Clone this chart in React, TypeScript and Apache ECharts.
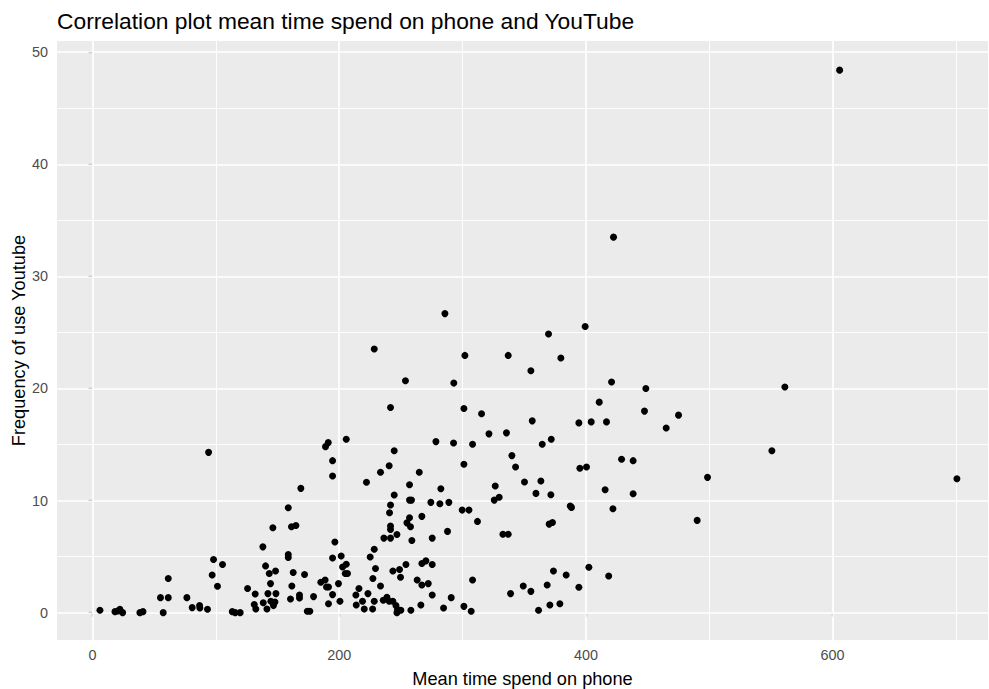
import React, { useEffect, useRef } from "react";
import * as echarts from "echarts";

// Mean minutes per day on the phone for each participant
const meanPhoneTime = [
  94.1, 98.1, 105.4, 97.0, 61.4, 101.3, 55.1, 61.4, 76.5, 80.8,
  86.8, 87.0, 93.2, 6.0, 18.2, 22.2, 24.4, 20.5, 38.4, 40.9,
  57.3, 113.3, 115.7, 119.7, 125.7, 131.9, 131.1, 132.4, 138.1, 140.3,
  143.3, 144.3, 148.4, 146.2, 142.2, 138.4, 141.4, 144.6, 147.9, 148.7,
  146.7, 158.7, 161.3, 164.9, 158.7, 158.7, 162.7, 161.6, 160.5, 167.8,
  167.8, 168.9, 171.9, 174.1, 176.2, 179.2, 185.1, 188.6, 189.7, 191.3,
  194.6, 191.3, 188.9, 191.1, 194.6, 194.6, 205.7, 196.5, 194.6, 201.6,
  202.7, 205.7, 204.9, 206.7, 199.4, 200.6, 213.5, 216.0, 213.8, 218.9,
  220.3, 223.3, 227.1, 228.4, 227.3, 229.4, 225.1, 228.4, 233.5, 222.1,
  233.5, 240.5, 244.6, 264.9, 257.0, 244.6, 257.0, 258.6, 274.3, 278.4,
  241.6, 240.8, 267.0, 241.6, 241.6, 254.9, 257.0, 257.8, 246.8, 236.2,
  241.6, 258.9, 275.4, 267.0, 270.3, 275.4, 254.1, 248.9, 243.5, 249.7,
  263.2, 267.0, 272.2, 275.4, 235.7, 238.7, 240.5, 243.5, 246.0, 247.3,
  250.0, 246.8, 258.1, 266.2, 356.5, 394.3, 404.3, 416.7, 292.7, 308.1,
  321.4, 335.6, 364.6, 371.9, 340.0, 343.0, 301.1, 395.1, 400.5, 350.2,
  363.5, 326.5, 282.4, 359.5, 371.6, 415.6, 325.7, 329.7, 281.6, 288.9,
  299.7, 305.2, 312.1, 387.3, 388.3, 421.9, 370.2, 372.9, 287.8, 332.7,
  337.0, 402.4, 418.5, 373.7, 384.0, 308.1, 290.8, 284.6, 301.1, 307.0,
  338.9, 349.2, 355.4, 368.6, 361.6, 370.8, 378.9, 394.3, 420.8, 448.6,
  561.3, 410.8, 447.5, 475.1, 465.1, 428.9, 438.3, 550.8, 498.6, 438.3,
  490.2, 228.4, 241.6, 285.7, 369.7, 399.4, 301.9, 337.0, 379.7, 355.4,
  253.7, 292.9, 301.1, 315.4, 605.7, 422.4, 700.8,
];

// YouTube use frequency, same order as meanPhoneTime
const youtubeFrequency = [
  14.3, 4.74, 4.29, 3.36, 3.04, 2.35, 1.34, 1.34, 1.34, 0.45,
  0.63, 0.41, 0.30, 0.21, 0.09, 0.30, 0, 0.15, 0, 0.09,
  0, 0.09, 0, 0, 2.15, 1.66, 0.72, 0.32, 5.87, 4.17,
  3.49, 2.59, 3.72, 7.57, 1.70, 0.89, 0.32, 1.01, 0.95, 1.70,
  0.63, 9.36, 7.66, 7.78, 5.19, 4.92, 3.58, 2.38, 1.22, 1.57,
  1.31, 11.09, 3.40, 0.12, 0.12, 1.43, 2.71, 2.92, 2.29, 2.29,
  1.61, 0.80, 14.81, 15.17, 13.56, 12.19, 15.47, 6.31, 4.88, 5.06,
  4.08, 4.32, 3.49, 3.49, 2.59, 1.01, 1.57, 2.15, 0.68, 1.01,
  0.32, 1.70, 0.32, 1.01, 3.04, 3.94, 4.97, 5.66, 2.38, 11.63,
  12.52, 13.11, 14.45, 12.52, 11.41, 10.49, 10.04, 10.04, 9.84, 15.26,
  9.60, 8.91, 8.59, 7.72, 7.42, 8.01, 8.46, 7.66, 6.98, 6.65,
  6.65, 6.44, 6.65, 4.38, 4.62, 4.29, 4.29, 3.85, 3.72, 3.16,
  2.92, 2.47, 2.59, 1.57, 1.10, 1.37, 1.01, 1.01, 0.63, 0.27,
  0.21, 0, 0.21, 0.68, 17.11, 16.93, 17.02, 17.02, 15.14, 15.03,
  15.95, 16.04, 15.03, 15.47, 14.01, 13.0, 13.24, 12.88, 13.0, 11.65,
  11.74, 11.3, 11.06, 10.64, 10.52, 10.97, 10.04, 10.29, 9.71, 9.84,
  9.15, 9.15, 8.14, 9.51, 9.39, 9.27, 7.90, 8.05, 7.25, 7.0,
  7.0, 4.05, 3.27, 3.72, 3.36, 2.92, 1.34, 0.41, 0.56, 0.12,
  1.70, 2.38, 1.90, 2.47, 0.21, 0.68, 0.80, 2.26, 20.57, 20.0,
  20.13, 18.78, 17.98, 17.62, 16.48, 13.68, 13.56, 14.45, 12.07, 10.61,
  8.23, 23.52, 18.3, 26.68, 24.86, 25.53, 22.95, 22.95, 22.72, 21.58,
  20.69, 20.48, 18.21, 17.74, 48.4, 33.5, 11.94,
];

// Axis breaks
const xMajorBreaks = [0, 200, 400, 600];
const xMinorBreaks = [100, 300, 500, 700];
const yMajorBreaks = [0, 10, 20, 30, 40, 50];
const yMinorBreaks = [5, 15, 25, 35, 45];

const FONT = "'Liberation Sans', Arial, sans-serif";

export default function App() {
  const ref = useRef<HTMLDivElement>(null);

  useEffect(() => {
    if (!ref.current) return;
    const chart = echarts.init(ref.current, undefined, { renderer: "svg" });

    const points = meanPhoneTime.map((x, i) => [x, youtubeFrequency[i]]);

    const gridLine = (key: "xAxis" | "yAxis", value: number, width: number) => ({
      [key]: value,
      lineStyle: { color: "#FFFFFF", width, type: "solid", opacity: 1 },
    });

    const gridLines = [
      ...xMinorBreaks.map((v) => gridLine("xAxis", v, 0.9)),
      ...yMinorBreaks.map((v) => gridLine("yAxis", v, 0.9)),
      ...xMajorBreaks.map((v) => gridLine("xAxis", v, 1.7)),
      ...yMajorBreaks.map((v) => gridLine("yAxis", v, 1.7)),
    ];

    chart.setOption({
      animation: false,
      backgroundColor: "#FFFFFF",
      textStyle: { fontFamily: FONT },
      title: {
        text: "Correlation plot mean time spend on phone and YouTube",
        left: 57,
        top: 9,
        padding: 0,
        textStyle: {
          fontFamily: FONT,
          fontSize: 22.8,
          fontWeight: "normal",
          color: "#000000",
        },
      },
      grid: {
        left: 57,
        right: 1,
        top: 41,
        bottom: 49,
        outerBoundsMode: "none",
        containLabel: false,
        show: true,
        backgroundColor: "#EBEBEB",
        borderWidth: 0,
      },
      xAxis: {
        type: "value",
        min: -28.8,
        max: 726,
        name: "Mean time spend on phone",
        nameLocation: "middle",
        nameGap: 30,
        nameMoveOverlap: false,
        nameTextStyle: { fontFamily: FONT, fontSize: 18.2, color: "#000000" },
        axisLine: { show: false },
        axisTick: {
          show: true,
          length: 4,
          customValues: xMajorBreaks,
          lineStyle: { color: "#333333", width: 1.1 },
        },
        axisLabel: {
          customValues: xMajorBreaks,
          margin: 8,
          fontFamily: FONT,
          fontSize: 14.4,
          color: "#4D4D4D",
        },
        splitLine: { show: false },
      },
      yAxis: {
        type: "value",
        min: -2.44,
        max: 51.0,
        name: "Frequency of use Youtube",
        nameLocation: "middle",
        nameGap: 29,
        nameMoveOverlap: false,
        nameRotate: 90,
        nameTextStyle: { fontFamily: FONT, fontSize: 18.2, color: "#000000" },
        axisLine: { show: false },
        axisTick: {
          show: true,
          length: 4,
          customValues: yMajorBreaks,
          lineStyle: { color: "#333333", width: 1.1 },
        },
        axisLabel: {
          customValues: yMajorBreaks,
          margin: 9,
          fontFamily: FONT,
          fontSize: 14.4,
          color: "#4D4D4D",
        },
        splitLine: { show: false },
      },
      series: [
        {
          type: "scatter",
          data: [],
          silent: true,
          z: 1,
          markLine: {
            silent: true,
            z: 1,
            symbol: ["none", "none"],
            label: { show: false },
            emphasis: { disabled: true },
            animation: false,
            data: gridLines,
          },
        },
        {
          type: "scatter",
          z: 10,
          data: points,
          symbol: "circle",
          symbolSize: 7,
          itemStyle: { color: "#000000", opacity: 1 },
          emphasis: { disabled: true },
        },
      ],
    });

    return () => chart.dispose();
  }, []);

  return (
    <div
      ref={ref}
      style={{ position: "absolute", left: 0, top: 0, width: 989, height: 689 }}
    />
  );
}
